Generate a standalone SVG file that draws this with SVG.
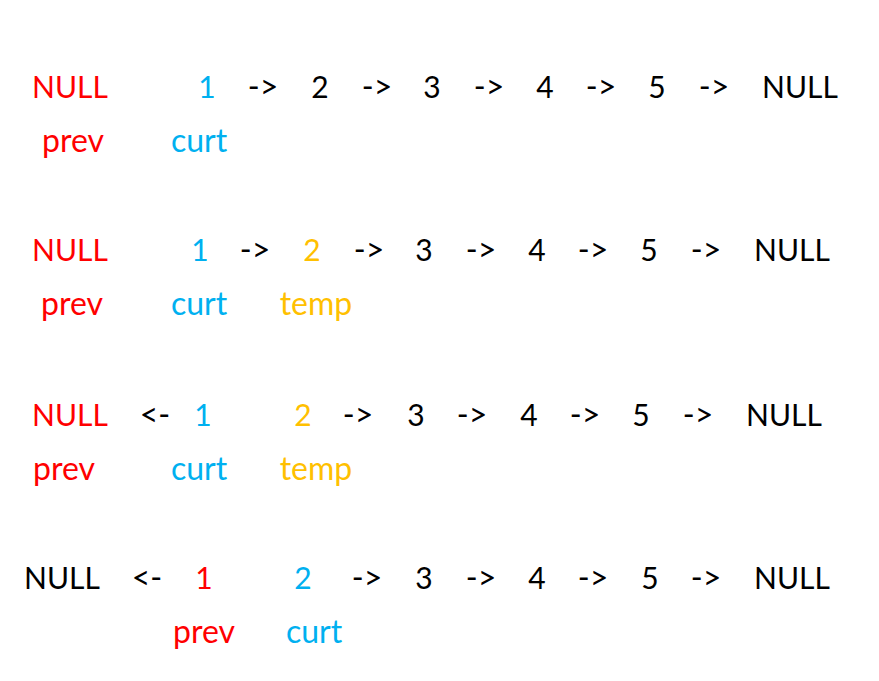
<svg xmlns="http://www.w3.org/2000/svg" width="879" height="681" viewBox="0 0 879 681">
<style>
text{font-family:Lato,"Open Sans","Liberation Sans",sans-serif;font-size:30px;text-anchor:middle;fill:#000}
.r{fill:#FF0000}.b{fill:#00B0F0}.o{fill:#FFC000}
.a{font-size:32px}
.l{font-size:32px}
</style>
<rect width="879" height="681" fill="#fff"/>
<g id="row1">
<text x="70" y="98" class="r">NULL</text>
<text x="207" y="98" class="b">1</text>
<text x="263" y="98" class="a">-&gt;</text>
<text x="320" y="98">2</text>
<text x="377" y="98" class="a">-&gt;</text>
<text x="432" y="98">3</text>
<text x="489" y="98" class="a">-&gt;</text>
<text x="545" y="98">4</text>
<text x="601" y="98" class="a">-&gt;</text>
<text x="657" y="98">5</text>
<text x="714" y="98" class="a">-&gt;</text>
<text x="800" y="98">NULL</text>
<text x="73" y="152" class="r l">prev</text>
<text x="199" y="152" class="b l">curt</text>
</g>
<g id="row2">
<text x="70" y="261" class="r">NULL</text>
<text x="200" y="261" class="b">1</text>
<text x="255" y="261" class="a">-&gt;</text>
<text x="312" y="261" class="o">2</text>
<text x="369" y="261" class="a">-&gt;</text>
<text x="424" y="261">3</text>
<text x="481" y="261" class="a">-&gt;</text>
<text x="537" y="261">4</text>
<text x="593" y="261" class="a">-&gt;</text>
<text x="649" y="261">5</text>
<text x="706" y="261" class="a">-&gt;</text>
<text x="792" y="261">NULL</text>
<text x="72" y="315" class="r l">prev</text>
<text x="199" y="315" class="b l">curt</text>
<text x="316" y="315" class="o l">temp</text>
</g>
<g id="row3">
<text x="70" y="426" class="r">NULL</text>
<text x="155" y="426" class="a">&lt;-</text>
<text x="203" y="426" class="b">1</text>
<text x="303" y="426" class="o">2</text>
<text x="358" y="426" class="a">-&gt;</text>
<text x="416" y="426">3</text>
<text x="472" y="426" class="a">-&gt;</text>
<text x="529" y="426">4</text>
<text x="585" y="426" class="a">-&gt;</text>
<text x="641" y="426">5</text>
<text x="698" y="426" class="a">-&gt;</text>
<text x="784" y="426">NULL</text>
<text x="64" y="480" class="r l">prev</text>
<text x="199" y="480" class="b l">curt</text>
<text x="316" y="480" class="o l">temp</text>
</g>
<g id="row4">
<text x="62" y="589">NULL</text>
<text x="147" y="589" class="a">&lt;-</text>
<text x="204" y="589" class="r">1</text>
<text x="303" y="589" class="b">2</text>
<text x="367" y="589" class="a">-&gt;</text>
<text x="424" y="589">3</text>
<text x="481" y="589" class="a">-&gt;</text>
<text x="537" y="589">4</text>
<text x="593" y="589" class="a">-&gt;</text>
<text x="650" y="589">5</text>
<text x="706" y="589" class="a">-&gt;</text>
<text x="792" y="589">NULL</text>
<text x="204" y="643" class="r l">prev</text>
<text x="314" y="643" class="b l">curt</text>
</g>
</svg>
